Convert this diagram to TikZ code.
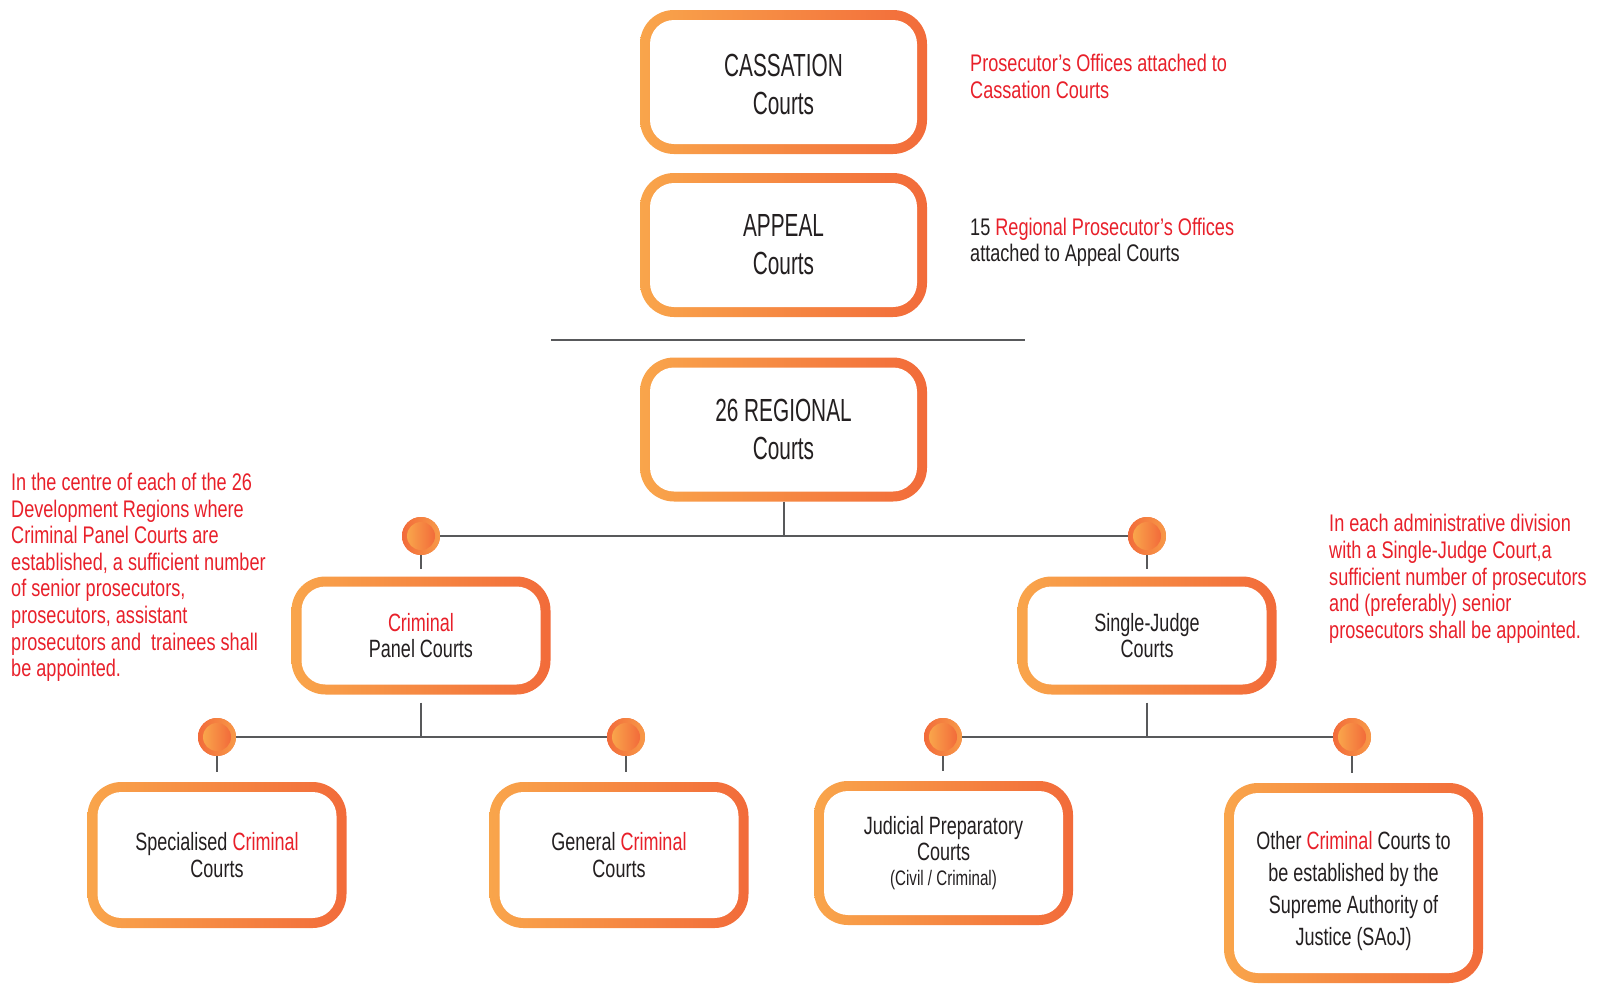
\documentclass[tikz,border=0pt]{standalone}
\usepackage{fontspec}
\setmainfont[FakeStretch=0.72]{Liberation Sans}
\newfontfamily\capsfont[FakeStretch=0.65]{Liberation Sans}
\newfontfamily\notefont[FakeStretch=0.755]{Liberation Sans}

\definecolor{courtlight}{HTML}{F9A54B}
\definecolor{courtdark}{HTML}{F26B3A}
\definecolor{notered}{HTML}{E8202A}
\definecolor{textdark}{HTML}{231F20}
\definecolor{linegray}{HTML}{58595B}

\tikzset{
  court/.style={rectangle, rounded corners=34pt, fill=white, inner sep=0pt, align=center, text=textdark,
    path picture={
      \shade[left color=courtlight, right color=courtdark] (path picture bounding box.south west) rectangle (path picture bounding box.north east);
      \fill[white, rounded corners=24pt] ([shift={(10pt,10pt)}]path picture bounding box.south west) rectangle ([shift={(-10pt,-10pt)}]path picture bounding box.north east);
    }},
  topcourt/.style={court, minimum width=287pt, minimum height=144pt, font=\capsfont\fontsize{32}{38}\selectfont},
  lowcourt/.style={court, minimum width=259pt, font=\fontsize{25}{26.6}\selectfont},
  knob/.style={circle, minimum size=38pt, inner sep=0pt, fill=courtdark,
    path picture={
      \shade[left color=courtdark, right color=courtlight!80!courtdark] (path picture bounding box.south west) rectangle (path picture bounding box.north east);
      \shade[left color=courtlight, right color=courtdark] (path picture bounding box.center) circle (14pt);
    }},
  link/.style={draw=linegray, line width=2pt},
  note/.style={align=left, inner sep=0pt, anchor=base west, text=notered, font=\notefont\fontsize{24}{26.6}\selectfont},
}
\newcommand{\crim}{\textcolor{notered}{Criminal}}

\begin{document}
\begin{tikzpicture}[x=1pt,y=-1pt]
\useasboundingbox (0,0) rectangle (1603,988);

% upper courts
\node[topcourt] (cass) at (783.5,82) {\rule{0pt}{27pt}CASSATION\\Courts};
\node[topcourt] (appeal) at (783.5,245) {APPEAL\\Courts};
\coordinate (sepL) at (551,340);
\coordinate (sepR) at (1025,340);
\draw[link] (sepL) -- (sepR);
\node[topcourt] (regional) at (783.5,429.5) {26 REGIONAL\\Courts};

% first instance
\node[lowcourt, minimum height=118pt] (panel) at (421,635.5) {\crim\\Panel Courts};
\node[lowcourt, minimum height=118pt] (single) at (1147,635.5) {Single-Judge\\Courts};
\node[lowcourt, minimum height=146pt] (spec) at (217,855) {Specialised \crim\\Courts};
\node[lowcourt, minimum height=146pt] (general) at (619,855) {General \crim\\Courts};
\node[lowcourt, minimum height=144pt] (judicial) at (943.5,853) {Judicial Preparatory\\Courts\\[-2pt]{\fontsize{21}{24}\selectfont(Civil / Criminal)}};
\node[lowcourt, minimum height=200pt, font=\fontsize{25}{32}\selectfont] (other) at (1353.5,883) {\rule{0pt}{34pt}Other \crim{} Courts to\\be established by the\\Supreme Authority of\\Justice (SAoJ)};

% knobs
\node[knob] (kPanel) at (421,536) {};
\node[knob] (kSingle) at (1147,536) {};
\node[knob] (kSpec) at (217,737) {};
\node[knob] (kGeneral) at (626,737) {};
\node[knob] (kJudicial) at (943,737) {};
\node[knob] (kOther) at (1352,737) {};

% connectors
\draw[link] (regional.south) -- (regional.south |- kPanel);
\draw[link] (kPanel.east) -- (kSingle.west);
\draw[link, shorten >=7pt] (kPanel.south) -- (panel.north);
\draw[link, shorten >=7pt] (kSingle.south) -- (single.north);

\draw[link, shorten <=8pt] (panel.south) -- (panel.south |- kSpec);
\draw[link] (kSpec.east) -- (kGeneral.west);
\draw[link, shorten >=10pt] (kSpec.south) -- (spec.north);
\draw[link, shorten >=10pt] (kGeneral.south) -- (kGeneral.south |- general.north);

\draw[link, shorten <=8pt] (single.south) -- (single.south |- kJudicial);
\draw[link] (kJudicial.east) -- (kOther.west);
\draw[link, shorten >=10pt] (kJudicial.south) -- (kJudicial.south |- judicial.north);
\draw[link, shorten >=10pt] (kOther.south) -- (kOther.south |- other.north);

% notes (anchored at the baseline of their last line)
\node[note] (cassNote) at (970,98.3) {Prosecutor’s Offices attached to\\Cassation Courts};
\node[note] (appealNote) at (970,261.7) {\textcolor{textdark}{15} Regional Prosecutor’s Offices\\\textcolor{textdark}{attached to Appeal Courts}};
\node[note] (panelNote) at (11,676.7) {In the centre of each of the 26\\Development Regions where\\Criminal Panel Courts are\\established, a sufficient number\\of senior prosecutors,\\prosecutors, assistant\\prosecutors and\ \ trainees shall\\be appointed.};
\node[note] (singleNote) at (1329,638.3) {In each administrative division\\with a Single-Judge Court,a\\sufficient number of prosecutors\\and (preferably) senior\\prosecutors shall be appointed.};
\end{tikzpicture}
\end{document}
